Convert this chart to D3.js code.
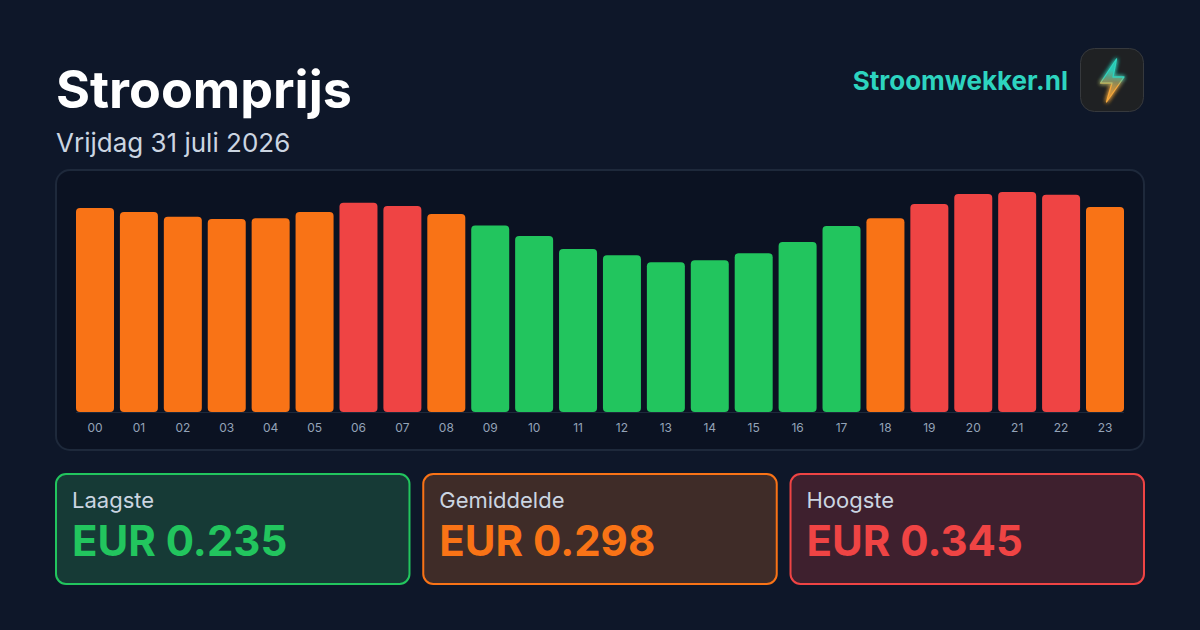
<!DOCTYPE html>
<html><head><meta charset="utf-8">
<script src="https://cdn.jsdelivr.net/npm/d3@7"></script>
<style>html,body{margin:0;padding:0;background:#0e1729}svg{display:block}text{font-family:Inter,sans-serif}</style>
</head><body><div id="chart"></div>
<script>
const hours=["00","01","02","03","04","05","06","07","08","09","10","11","12","13","14","15","16","17","18","19","20","21","22","23"];
const prices=[0.320,0.3136,0.306,0.3027,0.304,0.3136,0.328,0.323,0.3105,0.2925,0.276,0.2556,0.246,0.235,0.238,0.249,0.2666,0.2917,0.304,0.326,0.342,0.345,0.3405,0.3215];
const levels=["m","m","m","m","m","m","h","h","m","l","l","l","l","l","l","l","l","l","m","h","h","h","h","m"];
const levelNames=["l","m","h"];
const levelColors=["#22c55e","#f97316","#ef4444"];
const statLabels=["Laagste","Gemiddelde","Hoogste"];
const statValues=["EUR 0.235","EUR 0.298","EUR 0.345"];
const statFills=["#163a36","#3f2c28","#3e202e"];

const svg=d3.select("#chart").append("svg").attr("width",1200).attr("height",630);
const defs=svg.append("defs");
const bolt=defs.append("linearGradient").attr("id","bolt").attr("x1",0).attr("y1",0).attr("x2",0).attr("y2",1);
bolt.append("stop").attr("offset","42%").attr("stop-color","#2dd4bf");
bolt.append("stop").attr("offset","62%").attr("stop-color","#f5a83c");
const boltFill=defs.append("linearGradient").attr("id","boltFill").attr("x1",0).attr("y1",0).attr("x2",0).attr("y2",1);
boltFill.append("stop").attr("offset","25%").attr("stop-color","#2dd4bf").attr("stop-opacity",0.65);
boltFill.append("stop").attr("offset","52%").attr("stop-color","#8a8f60").attr("stop-opacity",0.5);
boltFill.append("stop").attr("offset","85%").attr("stop-color","#f5a83c").attr("stop-opacity",0.5);
const glow=defs.append("filter").attr("id","glow").attr("x","-60%").attr("y","-60%").attr("width","220%").attr("height","220%");
glow.append("feGaussianBlur").attr("stdDeviation",2.2).attr("result","b");
const gm=glow.append("feMerge");gm.append("feMergeNode").attr("in","b");gm.append("feMergeNode").attr("in","b");gm.append("feMergeNode").attr("in","SourceGraphic");

svg.append("rect").attr("width",1200).attr("height",630).attr("fill","#0e1729");

svg.append("text").attr("x",56).attr("y",108).attr("font-size",52).attr("font-weight",700).attr("fill","#ffffff").text("Stroomprijs");
svg.append("text").attr("x",56).attr("y",152).attr("font-size",26).attr("fill","#cbd5e1").text("Vrijdag 31 juli 2026");
svg.append("text").attr("x",1068).attr("y",90).attr("text-anchor","end").attr("font-size",26).attr("font-weight",700).attr("fill","#2dd4bf").text("Stroomwekker.nl");

svg.append("rect").attr("x",1080.5).attr("y",48.5).attr("width",63).attr("height",63).attr("rx",14).attr("fill","#1f2123").attr("stroke","#36393d");
svg.append("path").attr("d","M1116.5 59 L1100.5 83 L1112 83 L1106.5 102 L1124 77 L1113 77 Z")
  .attr("fill","url(#boltFill)").attr("stroke","url(#bolt)").attr("stroke-width",1.3).attr("stroke-linejoin","round").attr("filter","url(#glow)");

svg.append("rect").attr("x",56).attr("y",170).attr("width",1088).attr("height",280).attr("rx",14).attr("fill","#0b1222").attr("stroke","#1e293b").attr("stroke-width",2);

const x=d3.scaleBand().domain(hours).range([76,1124]).paddingInner(0.1346).paddingOuter(0);
const y=d3.scaleLinear().domain([0,0.345]).range([412,192]);
const color=d3.scaleOrdinal().domain(levelNames).range(levelColors);

svg.append("line").attr("x1",76).attr("x2",1124).attr("y1",412.5).attr("y2",412.5).attr("stroke","#1e293b");
svg.append("g").selectAll("rect").data(prices).join("rect")
  .attr("x",(d,i)=>x(hours[i])).attr("y",d=>y(d)).attr("width",x.bandwidth()).attr("height",d=>y(0)-y(d))
  .attr("rx",4).attr("fill",(d,i)=>color(levels[i]));

const axis=svg.append("g").attr("transform","translate(0,412)").call(d3.axisBottom(x).tickSize(0).tickPadding(11));
axis.select(".domain").remove();
axis.selectAll("text").attr("font-size",12).attr("fill","#94a3b8").style("font-family","Inter,sans-serif");

const cardX=d3.scaleBand().domain(statLabels).range([56,1144]).paddingInner(0.0375);
const card=svg.append("g").selectAll("g").data(statLabels).join("g").attr("transform",d=>`translate(${cardX(d)},474)`);
card.append("rect").attr("width",cardX.bandwidth()).attr("height",110).attr("rx",10)
  .attr("fill",(d,i)=>statFills[i]).attr("stroke",(d,i)=>levelColors[i]).attr("stroke-width",2);
card.append("text").attr("x",16).attr("y",34).attr("font-size",22).attr("fill","#cbd5e1").text(d=>d);
card.append("text").attr("x",16).attr("y",82).attr("font-size",42).attr("font-weight",700).attr("fill",(d,i)=>levelColors[i]).text((d,i)=>statValues[i]);
</script></body></html>
